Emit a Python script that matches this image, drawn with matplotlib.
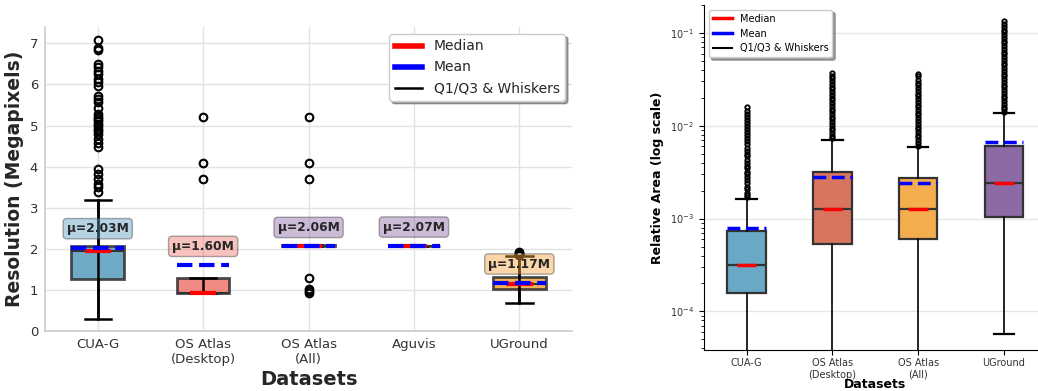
import matplotlib
matplotlib.use("Agg")
import matplotlib.pyplot as plt
from matplotlib.lines import Line2D

# ---------------- data: screen resolution per dataset ----------------
res_datasets = ["CUA-G", "OS Atlas\n(Desktop)", "OS Atlas\n(All)", "Aguvis", "UGround"]
res_q1 = [1.27, 0.93, 2.07, 2.07, 1.01]
res_median = [1.95, 0.93, 2.08, 2.07, 1.15]
res_q3 = [2.08, 1.30, 2.09, 2.07, 1.32]
res_whislo = [0.30, 0.93, 2.07, 2.07, 0.67]
res_whishi = [3.20, 1.30, 2.09, 2.07, 1.83]
res_mean = [2.03, 1.60, 2.06, 2.07, 1.17]
res_fliers = [
    [3.38, 3.50, 3.58, 3.70, 3.82, 3.94, 4.47, 4.58, 4.67, 4.79, 4.86, 4.92,
     5.00, 5.04, 5.10, 5.16, 5.22, 5.28, 5.43, 5.57, 5.65, 5.73, 5.97, 6.05,
     6.13, 6.26, 6.34, 6.42, 6.50, 6.85, 6.90, 7.08],
    [3.70, 4.10, 5.20],
    [0.92, 0.97, 1.03, 1.30, 3.70, 4.10, 5.20],
    [],
    [1.84, 1.86, 1.88, 1.90, 1.92],
]
res_face = ["#5b9fc0", "#f07a72", "#8e6aa8", "#8e6aa8", "#f5a540"]

# ---------------- data: relative element area per dataset ----------------
area_datasets = ["CUA-G", "OS Atlas\n(Desktop)", "OS Atlas\n(All)", "UGround"]
area_q1 = [1.56e-4, 5.3e-4, 6.05e-4, 1.03e-3]
area_median = [3.18e-4, 1.27e-3, 1.26e-3, 2.40e-3]
area_q3 = [7.43e-4, 3.15e-3, 2.74e-3, 6.05e-3]
area_whislo = [1.5e-5, 2.0e-5, 2.0e-5, 5.7e-5]
area_whishi = [1.61e-3, 7.08e-3, 5.94e-3, 1.36e-2]
area_mean = [8.0e-4, 2.79e-3, 2.44e-3, 6.73e-3]
area_fliers = [
    [0.0017, 0.0018, 0.0019, 0.0021, 0.0022, 0.0024, 0.0026, 0.0028, 0.0030,
     0.0032, 0.0035, 0.0037, 0.0040, 0.0043, 0.0047, 0.0050, 0.0054, 0.0058,
     0.0063, 0.0068, 0.0073, 0.0079, 0.0085, 0.0092, 0.0099, 0.0107, 0.0115,
     0.0124, 0.0134, 0.0145, 0.0160],
    [0.0073, 0.0078, 0.0083, 0.0089, 0.0095, 0.0102, 0.0109, 0.0117, 0.0125,
     0.0134, 0.0143, 0.0153, 0.0164, 0.0176, 0.0188, 0.0201, 0.0215, 0.0231,
     0.0247, 0.0264, 0.0283, 0.0303, 0.0324, 0.0347, 0.0370],
    [0.0061, 0.0065, 0.0070, 0.0075, 0.0080, 0.0086, 0.0092, 0.0098, 0.0105,
     0.0112, 0.0120, 0.0129, 0.0138, 0.0148, 0.0158, 0.0169, 0.0181, 0.0194,
     0.0207, 0.0222, 0.0238, 0.0254, 0.0272, 0.0292, 0.0312, 0.0340, 0.0365],
    [0.0140, 0.0150, 0.0161, 0.0172, 0.0184, 0.0197, 0.0211, 0.0226, 0.0242,
     0.0259, 0.0277, 0.0297, 0.0318, 0.0340, 0.0364, 0.0390, 0.0418, 0.0447,
     0.0479, 0.0513, 0.0549, 0.0588, 0.0629, 0.0674, 0.0722, 0.0773, 0.0828,
     0.0886, 0.0949, 0.1016, 0.1088, 0.1165, 0.1250, 0.1350],
]
area_face = ["#6aa9c6", "#d9755f", "#f4ae4d", "#8b6aa6"]


def make_stats(q1, med, q3, lo, hi, mean, fliers):
    return [dict(q1=a, med=b, q3=c, whislo=d, whishi=e, mean=f, fliers=g)
            for a, b, c, d, e, f, g in zip(q1, med, q3, lo, hi, mean, fliers)]


TXT = "#262626"
fig = plt.figure(figsize=(10.38, 3.91), dpi=100)

# ======================= left: resolution =======================
ax1 = fig.add_axes([0.0434, 0.1535, 0.5077, 0.7775])
pos1 = list(range(len(res_datasets)))
stats1 = make_stats(res_q1, res_median, res_q3, res_whislo, res_whishi, res_mean, res_fliers)
bp1 = ax1.bxp(stats1, positions=pos1, widths=0.5, patch_artist=True,
              boxprops=dict(edgecolor="#333333", linewidth=2.0),
              medianprops=dict(color="#333333", linewidth=1.5),
              whiskerprops=dict(color="black", linewidth=1.8),
              capprops=dict(color="black", linewidth=1.8),
              flierprops=dict(marker="o", markersize=5.5, markerfacecolor="none",
                              markeredgecolor="black", markeredgewidth=1.5))
for patch, c in zip(bp1["boxes"], res_face):
    patch.set_facecolor(c)
    patch.set_alpha(0.88)
    patch.set_edgecolor("#333333")

ax1.vlines(pos1, res_whislo, res_whishi, colors="black", linewidth=1.8, zorder=3)
for p, m in zip(pos1, res_median):
    ax1.plot([p - 0.125, p + 0.125], [m, m], color="red", linewidth=3, zorder=4,
             solid_capstyle="butt")
for p, m in zip(pos1, res_mean):
    ax1.plot([p - 0.25, p + 0.25], [m, m], color="blue", linewidth=3, linestyle="--",
             zorder=4.5)
for p, m, c in zip(pos1, res_mean, res_face):
    ax1.text(p, m + 0.46, f"\u03bc={m:.2f}M", ha="center", va="center",
             fontsize=8.8, fontweight="bold", color=TXT, zorder=6,
             bbox=dict(boxstyle="round,pad=0.3", facecolor=c, edgecolor="#444444",
                       linewidth=1.0, alpha=0.45))

ax1.set_xlim(-0.5, len(res_datasets) - 0.5)
ax1.set_ylim(0, 7.4)
ax1.set_yticks(range(0, 8))
ax1.set_xticks(pos1)
ax1.set_xticklabels(res_datasets)
ax1.tick_params(axis="both", length=0, labelsize=9.5, labelcolor="#333333", pad=5)
ax1.grid(True, color="#e2e2e2", linewidth=1.0)
ax1.set_axisbelow(True)
for s in ["top", "right"]:
    ax1.spines[s].set_visible(False)
for s in ["left", "bottom"]:
    ax1.spines[s].set_color("#cccccc")
    ax1.spines[s].set_linewidth(1.2)
ax1.set_xlabel("Datasets", fontsize=14, fontweight="bold", color=TXT, labelpad=3)
ax1.set_ylabel("Resolution (Megapixels)", fontsize=13.5, fontweight="bold", color=TXT,
               labelpad=4)
handles1 = [Line2D([], [], color="red", linewidth=4),
            Line2D([], [], color="blue", linewidth=4),
            Line2D([], [], color="black", linewidth=1.8)]
leg1 = ax1.legend(handles1, ["Median", "Mean", "Q1/Q3 & Whiskers"], loc="upper right",
                  fontsize=10, shadow=True, framealpha=1, edgecolor="#cccccc")
for t in leg1.get_texts():
    t.set_color(TXT)

# ======================= right: relative area =======================
ax2 = fig.add_axes([0.678, 0.1049, 0.3304, 0.8824])
pos2 = list(range(len(area_datasets)))
stats2 = make_stats(area_q1, area_median, area_q3, area_whislo, area_whishi, area_mean,
                    area_fliers)
bp2 = ax2.bxp(stats2, positions=pos2, widths=0.45, capwidths=0.24, patch_artist=True,
              boxprops=dict(edgecolor="#333333", linewidth=1.6),
              medianprops=dict(color="#333333", linewidth=1.6),
              whiskerprops=dict(color="black", linewidth=1.2),
              capprops=dict(color="black", linewidth=1.6),
              flierprops=dict(marker="o", markersize=3.2, markerfacecolor="none",
                              markeredgecolor="black", markeredgewidth=1.3))
for patch, c in zip(bp2["boxes"], area_face):
    patch.set_facecolor(c)
for p, m in zip(pos2, area_median):
    ax2.plot([p - 0.115, p + 0.115], [m, m], color="red", linewidth=2.5, zorder=4,
             solid_capstyle="butt")
for p, m in zip(pos2, area_mean):
    ax2.plot([p - 0.225, p + 0.225], [m, m], color="blue", linewidth=2.5, linestyle="--",
             zorder=4.5)

ax2.set_yscale("log")
ax2.set_xlim(-0.5, len(area_datasets) - 0.5)
ax2.set_ylim(3.84e-5, 0.2)
ax2.set_xticks(pos2)
ax2.set_xticklabels(area_datasets)
ax2.tick_params(axis="both", which="both", labelsize=7, labelcolor="#333333")
ax2.tick_params(axis="x", pad=2.5)
ax2.yaxis.grid(True, which="major", color="#e6e6e6", linewidth=1.0)
ax2.set_axisbelow(True)
for s in ["top", "right"]:
    ax2.spines[s].set_visible(False)
ax2.set_xlabel("Datasets", fontsize=9, fontweight="bold", color="black")
ax2.xaxis.set_label_coords(0.5, -0.082)
ax2.set_ylabel("Relative Area (log scale)", fontsize=9, fontweight="bold", color="black",
               labelpad=4)
handles2 = [Line2D([], [], color="red", linewidth=2.5),
            Line2D([], [], color="blue", linewidth=2.5),
            Line2D([], [], color="black", linewidth=1.5)]
ax2.legend(handles2, ["Median", "Mean", "Q1/Q3 & Whiskers"], loc="upper left",
           fontsize=7, shadow=True, framealpha=1, edgecolor="#cccccc")

fig.savefig("out.png", dpi=100)
